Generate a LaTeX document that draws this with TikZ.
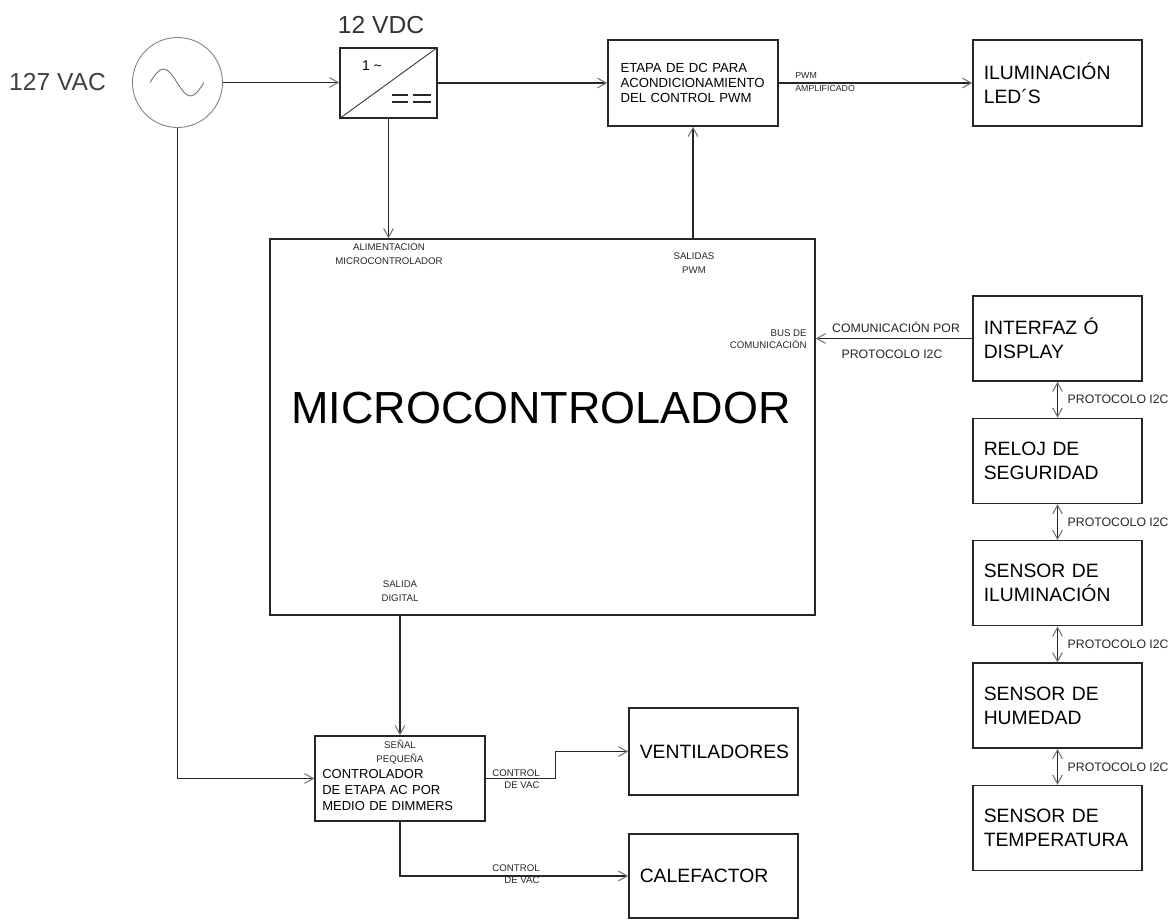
\documentclass[tikz,border=0pt]{standalone}
\usepackage{fontspec}
\setmainfont{Liberation Sans}
\usetikzlibrary{arrows.meta,positioning}

\tikzset{
  blk/.style={draw=black!85, line width=0.8pt, minimum width=3.38cm, minimum height=1.7cm,
    inner sep=0pt, text width=2.95cm, align=left, font=\fontsize{11}{13.6}\selectfont},
  smallblk/.style={font=\fontsize{7.5}{8.6}\selectfont, text width=2.9cm, align=left},
  lbl/.style={font=\fontsize{5.5}{8}\selectfont, text=black!85, align=center, inner sep=0pt},
  i2c/.style={font=\fontsize{7}{8}\selectfont, text=black!85, inner sep=0pt},
  tip/.tip={Straight Barb[length=5pt,width=5.5pt,color=black!55,line width=0.6pt]},
  wire/.style={draw=black!85, line width=0.8pt, -tip},
  biwire/.style={draw=black!85, line width=0.8pt, tip-tip}
}

\begin{document}
\begin{tikzpicture}[x=0.02cm, y=-0.02cm]
\useasboundingbox (0,0) rectangle (1175,919);

% fuente de alterna
\node[circle, draw=black!50, line width=0.5pt, minimum size=1.8cm, inner sep=0pt] (src) at (177.5,82.5) {};
\draw[black!55, line width=0.5pt] (150,82.5) sin (163.5,69) cos (177,82.5) sin (190.5,96) cos (204,82.5);
\node[font=\fontsize{14}{16}\selectfont, text=black!75] (vac) at (57.5,82) {127 VAC};

% convertidor
\node[draw=black!85, line width=0.8pt, minimum width=1.94cm, minimum height=1.4cm, inner sep=0pt] (conv) at (388.5,83) {};
\draw[black!80, line width=0.5pt] (conv.south west) -- (conv.north east);
\node[font=\fontsize{8}{9}\selectfont] (fase) at (372,66) {1 \textasciitilde};
\draw[black!85, line width=0.6pt] (392,95) -- (408,95) (413,95) -- (431,95)
  (392,102) -- (408,102) (413,102) -- (431,102);
\node[font=\fontsize{14}{16}\selectfont, text=black!80] (vdc) at (381,25) {12 VDC};

% etapa DC y leds
\node[blk, smallblk, minimum width=3.4cm, minimum height=1.72cm] (etapa) at (693,83)
  {ETAPA DE DC PARA\\ACONDICIONAMIENTO\\DEL CONTROL PWM};
\node[blk, minimum height=1.72cm] (ilum) at (1057.5,83) {ILUMINACIÓN\\LED´S};
\node[lbl, align=left, anchor=west, font=\fontsize{5}{7}\selectfont] (pwmamp) at (795,82) {PWM\\AMPLIFICADO};

% microcontrolador
\node[draw=black!85, line width=0.8pt, minimum width=10.9cm, minimum height=7.52cm, inner sep=0pt] (mcu) at (542.5,427) {};
\node[font=\fontsize{25.6}{30}\selectfont] (mcutxt) at (541,408) {MICROCONTROLADOR};
\node[lbl] (alim) at (389,254.5) {ALIMENTACION\\MICROCONTROLADOR};
\node[lbl] (spwm) at (694,263.5) {SALIDAS\\PWM};
\node[lbl, align=right, anchor=east, font=\fontsize{5.5}{7}\selectfont] (bus) at (807,339) {BUS DE\\COMUNICACIÓN};
\node[lbl] (sdig) at (400,591) {SALIDA\\DIGITAL};

% columna I2C
\node[blk] (intf) at (1057.5,338.5) {INTERFAZ Ó\\DISPLAY};
\node[blk, below=0.72cm of intf] (reloj) {RELOJ DE\\SEGURIDAD};
\node[blk, below=0.72cm of reloj] (ilums) {SENSOR DE\\ILUMINACIÓN};
\node[blk, below=0.72cm of ilums] (hum) {SENSOR DE\\HUMEDAD};
\node[blk, below=0.72cm of hum] (temp) {SENSOR DE\\TEMPERATURA};
\node[i2c] (compor) at (896,327) {COMUNICACIÓN POR};
\node[i2c] (protmc) at (892,354) {PROTOCOLO I2C};

% etapa AC
\node[draw=black!85, line width=0.8pt, minimum width=3.4cm, minimum height=1.7cm, inner sep=0pt] (dim) at (400,778.5) {};
\node[smallblk, anchor=west, inner sep=0pt, font=\fontsize{7.4}{9}\selectfont] (dimtxt) at (322,790)
  {CONTROLADOR\\DE ETAPA AC POR\\MEDIO DE DIMMERS};
\node[lbl] (senal) at (400,752) {SEÑAL\\PEQUEÑA};
\node[blk, align=center, minimum height=1.74cm] (vent) at (713.5,751.5) {VENTILADORES};
\node[blk, minimum height=1.68cm] (calef) at (713.5,876) {CALEFACTOR};
\node[lbl, align=right, anchor=east, font=\fontsize{5.5}{7}\selectfont] (cvac1) at (540,779) {CONTROL\\DE VAC};
\node[lbl, align=right, anchor=east, font=\fontsize{5.5}{7}\selectfont] (cvac2) at (540,874.5) {CONTROL\\DE VAC};

% conexiones
\draw[wire] (src.east) -- (src.east -| conv.west);
\draw[wire] (conv) -- (etapa);
\draw[wire] (etapa) -- (ilum);
\draw[wire] (conv.south) -- (conv.south |- mcu.north);
\draw[wire] (etapa.south |- mcu.north) -- (etapa.south);
\draw[wire] (intf.west) -- (intf.west -| mcu.east);
\draw[wire] (src.south) |- (dim.west);
\draw[wire] (dim.north |- mcu.south) -- (dim.north);
\draw[wire] (dim.east) -- ++(70,0) |- (vent.west);
\draw[wire] (dim.south) |- (calef.west);
\draw[biwire] (intf) -- (reloj) node[midway, right=5.4pt, i2c] {PROTOCOLO I2C};
\draw[biwire] (reloj) -- (ilums) node[midway, right=5.4pt, i2c] {PROTOCOLO I2C};
\draw[biwire] (ilums) -- (hum) node[midway, right=5.4pt, i2c] {PROTOCOLO I2C};
\draw[biwire] (hum) -- (temp) node[midway, right=5.4pt, i2c] {PROTOCOLO I2C};
\end{tikzpicture}
\end{document}
